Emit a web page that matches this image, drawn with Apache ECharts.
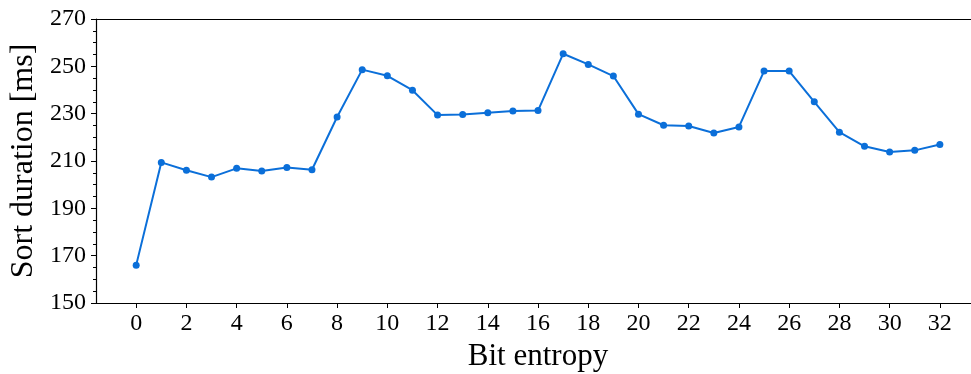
<!DOCTYPE html>
<html>
<head>
  <meta charset="utf-8">
  <title>Sort duration vs bit entropy</title>
  <script src="https://cdn.jsdelivr.net/npm/echarts@6/dist/echarts.min.js"></script>
  <style>
    html, body { margin: 0; padding: 0; background: #fff; }
    #chart { width: 971px; height: 374px; }
  </style>
</head>
<body>
  <div id="chart"></div>
  <script>
    // bit entropy 0..32 and measured sort time (ms)
    var entropy = [0, 1, 2, 3, 4, 5, 6, 7, 8, 9, 10, 11, 12, 13, 14, 15, 16,
                   17, 18, 19, 20, 21, 22, 23, 24, 25, 26, 27, 28, 29, 30, 31, 32];
    var duration = [166.0, 209.4, 206.1, 203.2, 206.9, 205.8, 207.3, 206.3, 228.6,
                    248.6, 246.0, 239.9, 229.4, 229.6, 230.4, 231.1, 231.3,
                    255.3, 250.8, 245.9, 229.8, 225.1, 224.8, 221.8, 224.4,
                    248.0, 248.0, 235.0, 222.2, 216.2, 213.8, 214.5, 217.0];
    var xTicks = [0, 2, 4, 6, 8, 10, 12, 14, 16, 18, 20, 22, 24, 26, 28, 30, 32];

    var font = 'Liberation Serif';
    var chart = echarts.init(document.getElementById('chart'));
    chart.setOption({
      animation: false,
      grid: { left: 96, right: 0, top: 19, bottom: 71, outerBoundsMode: 'none' },
      xAxis: [{
        type: 'value',
        min: -1.6,
        max: 33.24,
        name: 'Bit entropy',
        nameLocation: 'middle',
        nameGap: 38,
        nameTextStyle: { fontFamily: font, fontSize: 31, color: '#000', padding: [0, 0, 0, 9] },
        axisLine: { onZero: false, lineStyle: { color: '#000', width: 1.2 } },
        axisTick: { show: true, length: 5, customValues: xTicks, lineStyle: { color: '#000' } },
        axisLabel: { customValues: xTicks, fontFamily: font, fontSize: 24, color: '#000', margin: 9 },
        splitLine: { show: false }
      }, {
        type: 'value',
        position: 'top',
        min: -1.6,
        max: 33.24,
        axisLine: { show: true, onZero: false, lineStyle: { color: '#000', width: 1.2 } },
        axisTick: { show: false },
        axisLabel: { show: false },
        splitLine: { show: false }
      }],
      yAxis: {
        type: 'value',
        min: 150,
        max: 270,
        interval: 20,
        name: 'Sort duration [ms]',
        nameLocation: 'middle',
        nameGap: 56,
        nameTextStyle: { fontFamily: font, fontSize: 32, color: '#000' },
        axisLine: { show: true, onZero: false, lineStyle: { color: '#000', width: 1.2 } },
        axisTick: { show: true, length: 5, lineStyle: { color: '#000' } },
        minorTick: { show: true, splitNumber: 4, length: 3, lineStyle: { color: '#000' } },
        axisLabel: { fontFamily: font, fontSize: 24, color: '#000', margin: 10 },
        splitLine: { show: false }
      },
      series: [{
        type: 'line',
        data: entropy.map(function (e, i) { return [e, duration[i]]; }),
        symbol: 'circle',
        symbolSize: 7,
        lineStyle: { color: '#0b6fd9', width: 2 },
        itemStyle: { color: '#0b6fd9' }
      }]
    });
  </script>
</body>
</html>
